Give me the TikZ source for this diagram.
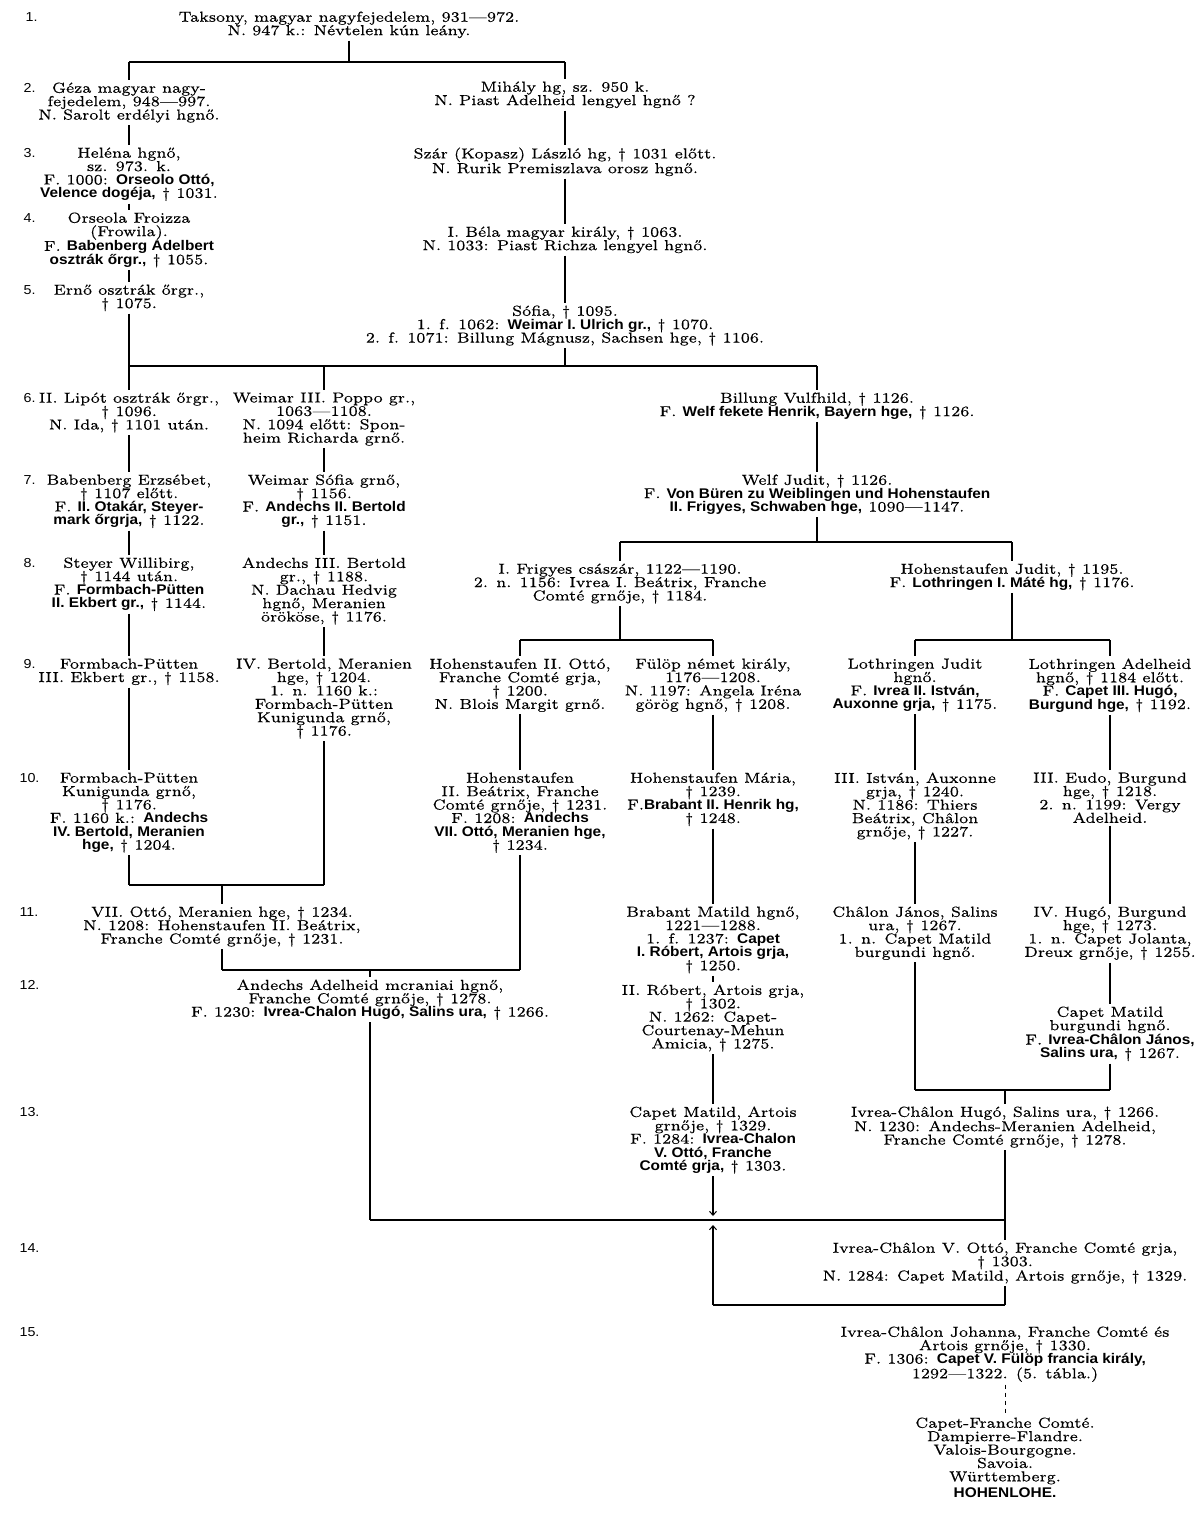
\documentclass[tikz,border=0pt]{standalone}
\usepackage{fontspec}
\setmainfont{lmroman7-regular.otf}[FakeStretch=1.1,FakeBold=0.4]
\newfontfamily\bsffam{Liberation Sans}[FakeStretch=1.1]
\usetikzlibrary{arrows.meta}
\newcommand\fs{\fontsize{14.5}{13.4}\selectfont}
\newcommand\bsb[1]{{\bsffam\bfseries\fontsize{14}{13.4}\selectfont #1}}
\newcommand\lf{\bsffam\fontsize{13}{13}\selectfont}
\begin{document}
\begin{tikzpicture}[x=1pt,y=-1pt,line width=1.1pt,
  p/.style={align=center,inner sep=2pt,anchor=north,font=\fs},
  lab/.style={anchor=west,inner sep=0pt,font=\lf},
  ar/.style={-{Straight Barb[length=4pt,width=7pt,line width=1pt]}}]
\fill[white] (0,0) rectangle (1195,1527);
\useasboundingbox (0,0) rectangle (1195,1527);
% row labels
\node[lab] (r1) at (25,17) {1.};
\node[lab] (r2) at (23,88) {2.};
\node[lab] (r3) at (23,153) {3.};
\node[lab] (r4) at (23,218) {4.};
\node[lab] (r5) at (23,290) {5.};
\node[lab] (r6) at (23,398) {6.};
\node[lab] (r7) at (23,480) {7.};
\node[lab] (r8) at (23,563) {8.};
\node[lab] (r9) at (23,664) {9.};
\node[lab] (r10) at (19,778) {10.};
\node[lab] (r11) at (19,912) {11.};
\node[lab] (r12) at (19,985) {12.};
\node[lab] (r13) at (19,1112) {13.};
\node[lab] (r14) at (19,1248) {14.};
\node[lab] (r15) at (19,1332) {15.};
% nodes
\node[p] (A) at (349,9) {Taksony, magyar nagyfejedelem, 931—972.\\N. 947 k.: Névtelen kún leány.};
\node[p] (B) at (129,80) {Géza magyar nagy-\\fejedelem, 948—997.\\N. Sarolt erdélyi hgnő.};
\node[p] (C) at (129,145) {Heléna hgnő,\\sz. 973. k.\\F. 1000: \bsb{Orseolo Ottó,}\\\bsb{Velence dogéja,} † 1031.};
\node[p] (D) at (129,210) {Orseola Froizza\\(Frowila).\\F. \bsb{Babenberg Adelbert}\\\bsb{osztrák őrgr.,} † 1055.};
\node[p] (E) at (129,282) {Ernő osztrák őrgr.,\\† 1075.};
\node[p] (F) at (565,79) {Mihály hg, sz. 950 k.\\N. Piast Adelheid lengyel hgnő ?};
\node[p] (G) at (565,145) {Szár (Kopasz) László hg, † 1031 előtt.\\N. Rurik Premiszlava orosz hgnő.};
\node[p] (H) at (565,224) {I. Béla magyar király, † 1063.\\N. 1033: Piast Richza lengyel hgnő.};
\node[p] (I) at (565,303) {Sófia, † 1095.\\1. f. 1062: \bsb{Weimar I. Ulrich gr.,} † 1070.\\2. f. 1071: Billung Mágnusz, Sachsen hge, † 1106.};
\node[p] (J) at (129,390) {II. Lipót osztrák őrgr.,\\† 1096.\\N. Ida, † 1101 után.};
\node[p] (O) at (324,390) {Weimar III. Poppo gr.,\\1063—1108.\\N. 1094 előtt: Spon-\\heim Richarda grnő.};
\node[p] (T) at (817,390) {Billung Vulfhild, † 1126.\\F. \bsb{Welf fekete Henrik, Bayern hge,} † 1126.};
\node[p] (K) at (129,472) {Babenberg Erzsébet,\\† 1107 előtt.\\F. \bsb{II. Otakár, Steyer-}\\\bsb{mark őrgrja,} † 1122.};
\node[p] (P) at (324,472) {Weimar Sófia grnő,\\† 1156.\\F. \bsb{Andechs II. Bertold}\\\bsb{gr.,} † 1151.};
\node[p] (U) at (817,472) {Welf Judit, † 1126.\\F. \bsb{Von Büren zu Weiblingen und Hohenstaufen}\\\bsb{II. Frigyes, Schwaben hge,} 1090—1147.};
\node[p] (L) at (129,555) {Steyer Willibirg,\\† 1144 után.\\F. \bsb{Formbach-Pütten}\\\bsb{II. Ekbert gr.,} † 1144.};
\node[p] (Q) at (324,555) {Andechs III. Bertold\\gr., † 1188.\\N. Dachau Hedvig\\hgnő, Meranien\\örököse, † 1176.};
\node[p] (V) at (620,561) {I. Frigyes császár, 1122—1190.\\2. n. 1156: Ivrea I. Beátrix, Franche\\Comté grnője, † 1184.};
\node[p] (W) at (1012,561) {Hohenstaufen Judit, † 1195.\\F. \bsb{Lothringen I. Máté hg,} † 1176.};
\node[p] (M) at (129,656) {Formbach-Pütten\\III. Ekbert gr., † 1158.};
\node[p] (R) at (324,656) {IV. Bertold, Meranien\\hge, † 1204.\\1. n. 1160 k.:\\Formbach-Pütten\\Kunigunda grnő,\\† 1176.};
\node[p] (X) at (520,656) {Hohenstaufen II. Ottó,\\Franche Comté grja,\\† 1200.\\N. Blois Margit grnő.};
\node[p] (Y) at (713,656) {Fülöp német király,\\1176—1208.\\N. 1197: Angela Iréna\\görög hgnő, † 1208.};
\node[p] (Z) at (915,656) {Lothringen Judit\\hgnő.\\F. \bsb{Ivrea II. István,}\\\bsb{Auxonne grja,} † 1175.};
\node[p] (AA) at (1110,656) {Lothringen Adelheid\\hgnő, † 1184 előtt.\\F. \bsb{Capet III. Hugó,}\\\bsb{Burgund hge,} † 1192.};
\node[p] (N) at (129,770) {Formbach-Pütten\\Kunigunda grnő,\\† 1176.\\F. 1160 k.: \bsb{Andechs}\\\bsb{IV. Bertold, Meranien}\\\bsb{hge,} † 1204.};
\node[p] (AB) at (520,770) {Hohenstaufen\\II. Beátrix, Franche\\Comté grnője, † 1231.\\F. 1208: \bsb{Andechs}\\\bsb{VII. Ottó, Meranien hge,}\\† 1234.};
\node[p] (AC) at (713,770) {Hohenstaufen Mária,\\† 1239.\\F.\bsb{Brabant II. Henrik hg,}\\† 1248.};
\node[p] (AD) at (915,770) {III. István, Auxonne\\grja, † 1240.\\N. 1186: Thiers\\Beátrix, Châlon\\grnője, † 1227.};
\node[p] (AE) at (1110,770) {III. Eudo, Burgund\\hge, † 1218.\\2. n. 1199: Vergy\\Adelheid.};
\node[p] (S) at (222,904) {VII. Ottó, Meranien hge, † 1234.\\N. 1208: Hohenstaufen II. Beátrix,\\Franche Comté grnője, † 1231.};
\node[p] (AF) at (713,904) {Brabant Matild hgnő,\\1221—1288.\\1. f. 1237: \bsb{Capet}\\\bsb{I. Róbert, Artois grja,}\\† 1250.};
\node[p] (AG) at (915,904) {Châlon János, Salins\\ura, † 1267.\\1. n. Capet Matild\\burgundi hgnő.};
\node[p] (AH) at (1110,904) {IV. Hugó, Burgund\\hge, † 1273.\\1. n. Capet Jolanta,\\Dreux grnője, † 1255.};
\node[p] (AM) at (370,977) {Andechs Adelheid mcraniai hgnő,\\Franche Comté grnője, † 1278.\\F. 1230: \bsb{Ivrea-Chalon Hugó, Salins ura,} † 1266.};
\node[p] (AI) at (713,982) {II. Róbert, Artois grja,\\† 1302.\\N. 1262: Capet-\\Courtenay-Mehun\\Amicia, † 1275.};
\node[p] (AJ) at (1110,1004) {Capet Matild\\burgundi hgnő.\\F. \bsb{Ivrea-Châlon János,}\\\bsb{Salins ura,} † 1267.};
\node[p] (AK) at (713,1104) {Capet Matild, Artois\\grnője, † 1329.\\F. 1284: \bsb{Ivrea-Chalon}\\\bsb{V. Ottó, Franche}\\\bsb{Comté grja,} † 1303.};
\node[p] (AL) at (1005,1104) {Ivrea-Châlon Hugó, Salins ura, † 1266.\\N. 1230: Andechs-Meranien Adelheid,\\Franche Comté grnője, † 1278.};
\node[p] (AN) at (1005,1240) {Ivrea-Châlon V. Ottó, Franche Comté grja,\\† 1303.\\N. 1284: Capet Matild, Artois grnője, † 1329.};
\node[p] (AO) at (1005,1324) {Ivrea-Châlon Johanna, Franche Comté és\\Artois grnője, † 1330.\\F. 1306: \bsb{Capet V. Fülöp francia király,}\\1292—1322. (5. tábla.)};
\node[p] (AP) at (1005,1415) {Capet-Franche Comté.\\Dampierre-Flandre.\\Valois-Bourgogne.\\Savoia.\\Württemberg.\\[3pt]\bsb{HOHENLOHE.}};
% junction coordinates
\coordinate (b1l) at (129,62); \coordinate (b1r) at (565,62);
\coordinate (b2l) at (129,366); \coordinate (b2m) at (324,366); \coordinate (b2r) at (817,366);
\coordinate (b3l) at (620,542); \coordinate (b3r) at (1012,542);
\coordinate (b4l) at (520,640); \coordinate (b4r) at (713,640);
\coordinate (b5l) at (915,640); \coordinate (b5r) at (1110,640);
\coordinate (b6l) at (129,885); \coordinate (b6r) at (324,885); \coordinate (b6m) at (222,885);
\coordinate (b7l) at (222,970); \coordinate (b7r) at (520,970); \coordinate (b7m) at (370,970);
\coordinate (b8l) at (915,1090); \coordinate (b8r) at (1110,1090); \coordinate (b8m) at (1005,1090);
\coordinate (b9l) at (370,1220); \coordinate (b9r) at (1005,1220);
\coordinate (a1) at (713,1216);
\coordinate (b10l) at (713,1305); \coordinate (b10r) at (1005,1305);
\coordinate (a2) at (713,1225);
% connectors
\draw (A.south) -- (A.south |- b1l);
\draw (b1l) -- (b1r);
\draw (b1l) -- (B.north);
\draw (b1r) -- (F.north);
\draw (B.south) -- (C.north);
\draw (C.south) -- (D.north);
\draw (D.south) -- (E.north);
\draw (E.south) -- (J.north);
\draw (F.south) -- (G.north);
\draw (G.south) -- (H.north);
\draw (H.south) -- (I.north);
\draw (I.south) -- (I.south |- b2l);
\draw (b2l) -- (b2r);
\draw (b2m) -- (O.north);
\draw (b2r) -- (T.north);
\draw (T.south) -- (U.north);
\draw (J.south) -- (K.north);
\draw (K.south) -- (L.north);
\draw (L.south) -- (M.north);
\draw (M.south) -- (N.north);
\draw (O.south) -- (P.north);
\draw (P.south) -- (Q.north);
\draw (Q.south) -- (R.north);
\draw (U.south) -- (U.south |- b3l);
\draw (b3l) -- (b3r);
\draw (b3l) -- (V.north);
\draw (b3r) -- (W.north);
\draw (V.south) -- (V.south |- b4l);
\draw (b4l) -- (b4r);
\draw (b4l) -- (X.north);
\draw (b4r) -- (Y.north);
\draw (W.south) -- (W.south |- b5l);
\draw (b5l) -- (b5r);
\draw (b5l) -- (Z.north);
\draw (b5r) -- (AA.north);
\draw (X.south) -- (AB.north);
\draw (Y.south) -- (AC.north);
\draw (Z.south) -- (AD.north);
\draw (AA.south) -- (AE.north);
\draw (N.south) -- (b6l);
\draw (R.south) -- (b6r);
\draw (b6l) -- (b6r);
\draw (b6m) -- (S.north);
\draw (S.south) -- (b7l);
\draw (AB.south) -- (b7r);
\draw (b7l) -- (b7r);
\draw (b7m) -- (AM.north);
\draw (AC.south) -- (AF.north);
\draw (AD.south) -- (AG.north);
\draw (AE.south) -- (AH.north);
\draw (AH.south) -- (AJ.north);
\draw (AF.south) -- (AI.north);
\draw (AI.south) -- (AK.north);
\draw (AG.south) -- (b8l);
\draw (AJ.south) -- (b8r);
\draw (b8l) -- (b8r);
\draw (b8m) -- (AL.north);
\draw (AM.south) -- (b9l);
\draw (b9l) -- (b9r);
\draw (AL.south) -- (AN.north);
\draw[ar] (AK.south) -- (a1);
\draw (AN.south) -- (b10r);
\draw (b10r) -- (b10l);
\draw[ar] (b10l) -- (a2);
\draw[line width=0.8pt,dash pattern=on 4pt off 4pt] (AO.south) -- (AP.north);
\end{tikzpicture}
\end{document}
